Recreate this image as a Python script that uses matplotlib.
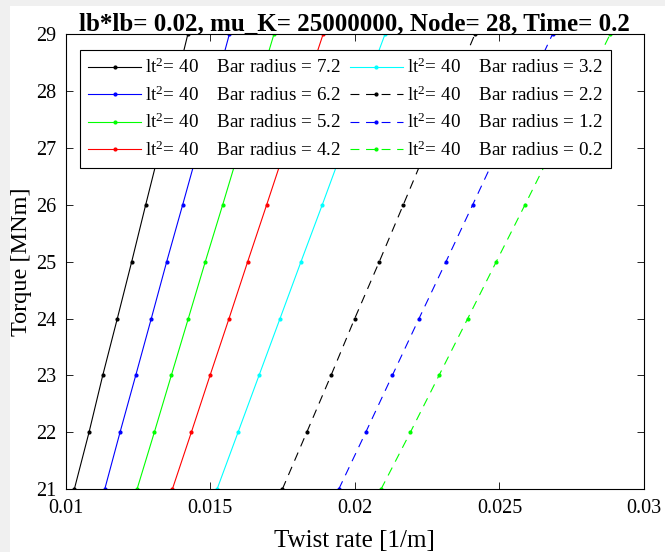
import matplotlib
matplotlib.use("Agg")
import matplotlib.pyplot as plt
from matplotlib.patches import Rectangle

torque = [21, 22, 23, 24, 25, 26, 27, 28, 29]
bar_radius = [7.2, 6.2, 5.2, 4.2, 3.2, 2.2, 1.2, 0.2]
lt2 = [40, 40, 40, 40, 40, 40, 40, 40]

twist_r72 = [0.010297, 0.010806, 0.011280, 0.011785, 0.012283, 0.012767, 0.013261, 0.013745, 0.014226]
twist_r62 = [0.011349, 0.011878, 0.012421, 0.012960, 0.013493, 0.014046, 0.014593, 0.015129, 0.015662]
twist_r52 = [0.012466, 0.013064, 0.013652, 0.014240, 0.014828, 0.015430, 0.016021, 0.016616, 0.017204]
twist_r42 = [0.013687, 0.014344, 0.014991, 0.015648, 0.016294, 0.016951, 0.017602, 0.018252, 0.018905]
twist_r32 = [0.015233, 0.015959, 0.016685, 0.017412, 0.018138, 0.018874, 0.019597, 0.020316, 0.021046]
twist_r22 = [0.017491, 0.018335, 0.019175, 0.019995, 0.020846, 0.021676, 0.022502, 0.023325, 0.024155]
twist_r12 = [0.019442, 0.020375, 0.021295, 0.022219, 0.023152, 0.024076, 0.024996, 0.025919, 0.026839]
twist_r02 = [0.020904, 0.021918, 0.022910, 0.023903, 0.024892, 0.025885, 0.026870, 0.027856, 0.028834]

series = [twist_r72, twist_r62, twist_r52, twist_r42, twist_r32, twist_r22, twist_r12, twist_r02]
colors = ['#000000', '#0000ff', '#00ff00', '#ff0000', '#00ffff', '#000000', '#0000ff', '#00ff00']
dashed = [False, False, False, False, False, True, True, True]

xticks = [0.01, 0.015, 0.02, 0.025, 0.03]
xticklabels = ['0.01', '0.015', '0.02', '0.025', '0.03']
yticks = [21, 22, 23, 24, 25, 26, 27, 28, 29]

plt.rcParams['font.family'] = ['Liberation Serif', 'DejaVu Serif']
plt.rcParams['mathtext.fontset'] = 'custom'
plt.rcParams['mathtext.rm'] = 'Liberation Serif'
plt.rcParams['mathtext.it'] = 'Liberation Serif:italic'

fig = plt.figure(figsize=(6.65, 5.52), dpi=100, facecolor='#f0f0f0')
fig.patches.append(Rectangle((10 / 665, 0), 1, 1 - 6 / 552, transform=fig.transFigure,
                             facecolor='white', edgecolor='none', zorder=-10))
ax = fig.add_axes([65.7 / 665, 1 - 489.3 / 552, (644 - 65.7) / 665, (489.3 - 34) / 552])

for xs, c, d, r, l in zip(series, colors, dashed, bar_radius, lt2):
    ls = (0, (8, 6)) if d else '-'
    ax.plot(xs, torque, color=c, linestyle=ls, linewidth=0.8, marker='.', markersize=4,
            label=f'lt$^2$= {l}    Bar radius = {r}')

ax.set_xlim(0.01, 0.03)
ax.set_ylim(21, 29)
ax.set_xticks(xticks)
ax.set_xticklabels(xticklabels)
ax.set_yticks(yticks)
ax.tick_params(direction='in', top=True, right=True, labelsize=14.5, length=5, width=0.6)
ax.tick_params(axis='x', pad=7)
ax.tick_params(axis='y', pad=7)
for s in ax.spines.values():
    s.set_linewidth(0.8)
ax.set_xlabel('Twist rate [1/m]', fontsize=18)
ax.set_ylabel('Torque [MNm]', fontsize=17.5)
ax.xaxis.set_label_coords(0.5, (489.3 - 530) / 455.3)
ax.yaxis.set_label_coords((32 - 65.7) / 578.3, 0.5)
ax.set_title('lb*lb= 0.02, mu_K= 25000000, Node= 28, Time= 0.2', fontsize=18,
             fontweight='bold', pad=3)

leg = ax.legend(ncol=2, loc='upper left', bbox_to_anchor=(14.7 / 578.3, 1 - 16 / 455.3),
                fontsize=13.8, frameon=True, fancybox=False, framealpha=1, edgecolor='black',
                handlelength=2.74, numpoints=1, borderpad=0.42, labelspacing=0.42,
                columnspacing=0.45, handletextpad=0.23, borderaxespad=0)
leg.get_frame().set_linewidth(0.8)

fig.savefig('out.png', dpi=100, facecolor=fig.get_facecolor())
